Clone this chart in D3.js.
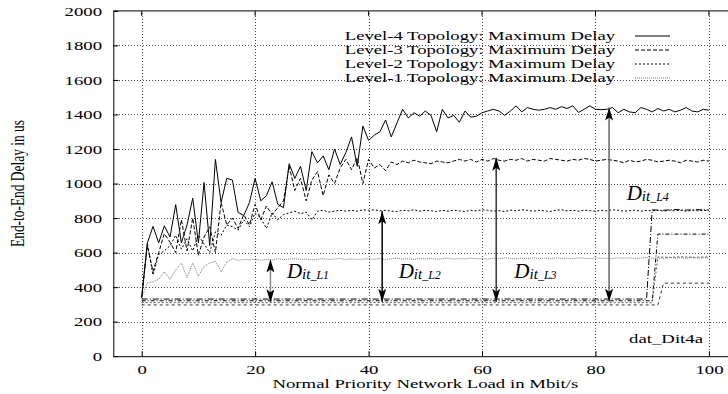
<!DOCTYPE html>
<html>
<head>
<meta charset="utf-8">
<script src="https://cdn.jsdelivr.net/npm/d3@7"></script>
<style>
body { margin: 0; background: #fff; }
svg { display: block; }
text { font-family: "Liberation Serif", "Times New Roman", serif; fill: #000; }
</style>
</head>
<body>
<div id="chart"></div>
<script>
// load in Mbit/s, one sample per Mbit/s
const load = d3.range(0, 101);

// maximum end-to-end delay (us) per topology level
const maxL4 = [340,655,752,657,755,690,878,657,760,915,657,1006,640,1140,890,1030,1020,833,815,890,
    1030,900,930,1010,880,860,1115,1030,1100,960,1185,1120,1160,1080,1200,1110,1180,1270,1100,1333,
    1250,1280,1300,1368,1270,1350,1430,1380,1410,1390,1420,1395,1300,1430,1380,1395,1355,1420,1385,1390,
    1410,1420,1430,1420,1395,1420,1450,1415,1440,1430,1425,1430,1440,1430,1445,1435,1450,1412,1430,1450,
    1430,1428,1430,1440,1410,1430,1415,1410,1440,1430,1415,1435,1420,1430,1415,1425,1440,1420,1415,1430,1425];
const maxL3 = [340,640,490,600,710,660,600,790,610,800,585,690,750,600,890,760,800,740,820,760,
    880,790,870,820,860,900,1100,960,1030,900,1020,1070,930,1050,1000,1090,1140,1080,1150,1000,
    1140,1090,1110,1075,1125,1110,1130,1120,1135,1125,1120,1115,1130,1125,1120,1130,1140,1130,1140,1125,
    1140,1130,1145,1135,1130,1140,1135,1145,1130,1140,1135,1130,1145,1140,1135,1130,1140,1135,1145,1140,
    1130,1135,1140,1135,1130,1120,1135,1125,1130,1140,1135,1125,1130,1135,1130,1120,1135,1130,1125,1135,1130];
const maxL2 = [340,655,470,590,610,640,700,620,680,610,700,650,600,720,700,760,750,730,790,750,
    830,800,740,830,790,820,830,840,825,835,790,840,845,835,840,845,840,845,840,848,
    845,848,842,845,840,838,845,842,848,840,845,842,838,845,840,846,842,838,845,842,
    848,845,840,843,838,846,842,848,845,840,845,842,838,845,848,842,845,840,846,843,
    840,845,842,848,845,840,843,846,840,845,842,845,840,846,842,845,840,846,842,845,843];
const maxL1 = [340,425,430,445,490,445,500,540,455,540,465,520,540,550,490,545,565,555,560,558,
    562,556,560,558,565,560,562,566,560,563,558,562,565,560,563,566,560,564,560,562,
    565,562,566,560,564,568,562,565,560,566,563,567,562,565,568,562,566,563,568,564,
    566,562,568,565,570,566,563,568,565,570,566,568,564,570,566,568,564,570,567,565,
    570,566,568,565,570,567,570,566,568,571,567,570,566,572,568,570,567,572,568,570,568];

// lower curves (flat, then stepping up near saturation), given by breakpoints
const lowAx = [0, 89, 90, 92, 94, 96, 98, 100];
const lowAy = [331, 331, 848, 845, 850, 846, 849, 847];
const lowBx = [0, 90, 91, 100];
const lowBy = [321, 321, 707, 707];
const lowCx = [0, 90, 91, 93, 95, 97, 100];
const lowCy = [310, 310, 575, 572, 576, 573, 575];
const lowDx = [0, 91, 92, 100];
const lowDy = [297, 297, 423, 423];

const xTicks = [0, 20, 40, 60, 80, 100];
const yTicks = [0, 200, 400, 600, 800, 1000, 1200, 1400, 1600, 1800, 2000];
const legendLabels = ["Level-4 Topology: Maximum Delay", "Level-3 Topology: Maximum Delay",
    "Level-2 Topology: Maximum Delay", "Level-1 Topology: Maximum Delay"];

// D_it annotations: arrow at load x between two delays, label anchor
const arrowX = [22.7, 42.4, 62.5, 82.4];
const arrowTop = [560, 840, 1150, 1440];
const arrowBottom = [312, 316, 316, 316];
const arrowLabel = ["L1", "L2", "L3", "L4"];
const labelX = [25.6, 45.3, 65.7, 85.5];
const labelY = [453, 453, 453, 905];

const width = 728, height = 394;
const x = d3.scaleLinear().domain([-5, 105]).range([113.3, 737.3]);
const y = d3.scaleLinear().domain([0, 2000]).range([356.2, 10.9]);
const SX = 1.4; // text in the source is stretched horizontally

const svg = d3.select("#chart").append("svg")
    .attr("width", width).attr("height", height);

const defs = svg.append("defs");
defs.append("clipPath").attr("id", "plot")
    .append("rect").attr("x", x(-5)).attr("y", y(2000))
    .attr("width", x(105) - x(-5)).attr("height", y(0) - y(2000));

function stretched(g, px, py, str, anchor, size, sx) {
    return g.append("text")
        .attr("transform", `translate(${px},${py}) scale(${sx || SX},1)`)
        .attr("text-anchor", anchor)
        .attr("font-size", size || 13.4)
        .text(str);
}

// grid
const grid = svg.append("g").attr("stroke", "#444").attr("stroke-width", 1)
    .attr("stroke-dasharray", "1,2").attr("shape-rendering", "crispEdges");
yTicks.filter(v => v > 0 && v < 2000).forEach(v => {
    const py = Math.round(y(v)) + 0.5;
    grid.append("line").attr("x1", x(-5)).attr("x2", x(105)).attr("y1", py).attr("y2", py);
});
xTicks.forEach(v => {
    const px = Math.round(x(v)) + 0.5;
    grid.append("line").attr("x1", px).attr("x2", px).attr("y1", y(0)).attr("y2", y(2000));
});

// axes
const yAxis = svg.append("g").attr("transform", `translate(${x(-5)},0)`)
    .call(d3.axisLeft(y).tickValues(yTicks).tickFormat(d3.format("d"))
        .tickSizeInner(-5).tickSizeOuter(0).tickPadding(8));
const xAxis = svg.append("g").attr("transform", `translate(0,${y(0)})`)
    .call(d3.axisBottom(x).tickValues(xTicks).tickFormat(d3.format("d"))
        .tickSizeInner(-5).tickSizeOuter(0).tickPadding(8));
[yAxis, xAxis].forEach(a => {
    a.attr("font-family", null).attr("font-size", null);
    a.selectAll("text").attr("font-size", 13.4).attr("transform", `scale(${SX},1)`);
    a.selectAll("path, line").attr("stroke", "#000");
});
yAxis.selectAll("text").attr("x", -8 / SX * 1.4 / SX * SX);

// top frame with mirror ticks
svg.append("line").attr("x1", x(-5)).attr("x2", x(105)).attr("y1", y(2000)).attr("y2", y(2000))
    .attr("stroke", "#000");
xTicks.forEach(v => {
    svg.append("line").attr("x1", x(v)).attr("x2", x(v)).attr("y1", y(2000)).attr("y2", y(2000) + 5)
        .attr("stroke", "#000");
});

// axis titles
stretched(svg, x(50), 388, "Normal Priority Network Load in Mbit/s", "middle");
svg.append("text")
    .attr("transform", `translate(24,${y(1000)}) rotate(-90) scale(1,${SX})`)
    .attr("text-anchor", "middle").attr("font-size", 13.4)
    .text("End-to-End Delay in us");

// curves
const line = d3.line().x(d => x(d[0])).y(d => y(d[1]));
const plot = svg.append("g").attr("clip-path", "url(#plot)").attr("fill", "none");

const lows = [
    { xs: lowAx, ys: lowAy, color: "#000", dash: "6,2,1,2" },
    { xs: lowBx, ys: lowBy, color: "#000", dash: "4,2,1,2" },
    { xs: lowCx, ys: lowCy, color: "#555", dash: "2,2" },
    { xs: lowDx, ys: lowDy, color: "#333", dash: "3,3" }
];
lows.forEach(s => {
    plot.append("path").datum(s.xs.map((v, i) => [v, s.ys[i]]))
        .attr("d", line).attr("stroke", s.color).attr("stroke-width", 1)
        .attr("stroke-dasharray", s.dash);
});

const maxes = [
    { values: maxL1, color: "#777", dash: "1,1" },
    { values: maxL2, color: "#000", dash: "2,2" },
    { values: maxL3, color: "#000", dash: "4,2" },
    { values: maxL4, color: "#000", dash: null }
];
maxes.forEach(s => {
    plot.append("path").datum(load.map((v, i) => [v, s.values[i]]))
        .attr("d", line).attr("stroke", s.color).attr("stroke-width", 1)
        .attr("stroke-dasharray", s.dash);
});

// legend
const legendStyles = [maxes[3], maxes[2], maxes[1], maxes[0]];
legendLabels.forEach((label, i) => {
    const ly = 36 + i * 14;
    stretched(svg, 615, ly + 4.3, label, "end", 12.2, 1.53);
    svg.append("line").attr("x1", 635).attr("x2", 670).attr("y1", ly).attr("y2", ly)
        .attr("stroke", legendStyles[i].color).attr("stroke-width", 1)
        .attr("stroke-dasharray", legendStyles[i].dash);
});

// data set tag
stretched(svg, 703, 343, "dat_Dit4a", "end");

// arrows
defs.append("marker").attr("id", "head")
    .attr("viewBox", "0 0 13 8").attr("refX", 13).attr("refY", 4)
    .attr("markerWidth", 13).attr("markerHeight", 8)
    .attr("markerUnits", "userSpaceOnUse").attr("orient", "auto-start-reverse")
    .append("path").attr("d", "M0,0 L13,4 L0,8 L3,4 z").attr("fill", "#000");

const shaftColors = ["#888", "#000", "#333", "#666"];
arrowX.forEach((ax, i) => {
    svg.append("line")
        .attr("x1", x(ax)).attr("x2", x(ax))
        .attr("y1", y(arrowTop[i])).attr("y2", y(arrowBottom[i]))
        .attr("stroke", shaftColors[i]).attr("stroke-width", 1.5)
        .attr("marker-start", "url(#head)").attr("marker-end", "url(#head)");

    const t = svg.append("text")
        .attr("x", x(labelX[i])).attr("y", y(labelY[i]))
        .attr("font-style", "italic");
    t.append("tspan").attr("font-size", 21).text("D");
    t.append("tspan").attr("font-size", 15).attr("dy", 1).text("it");
    t.append("tspan").attr("font-size", 12).text("_" + arrowLabel[i]);
});
</script>
</body>
</html>
